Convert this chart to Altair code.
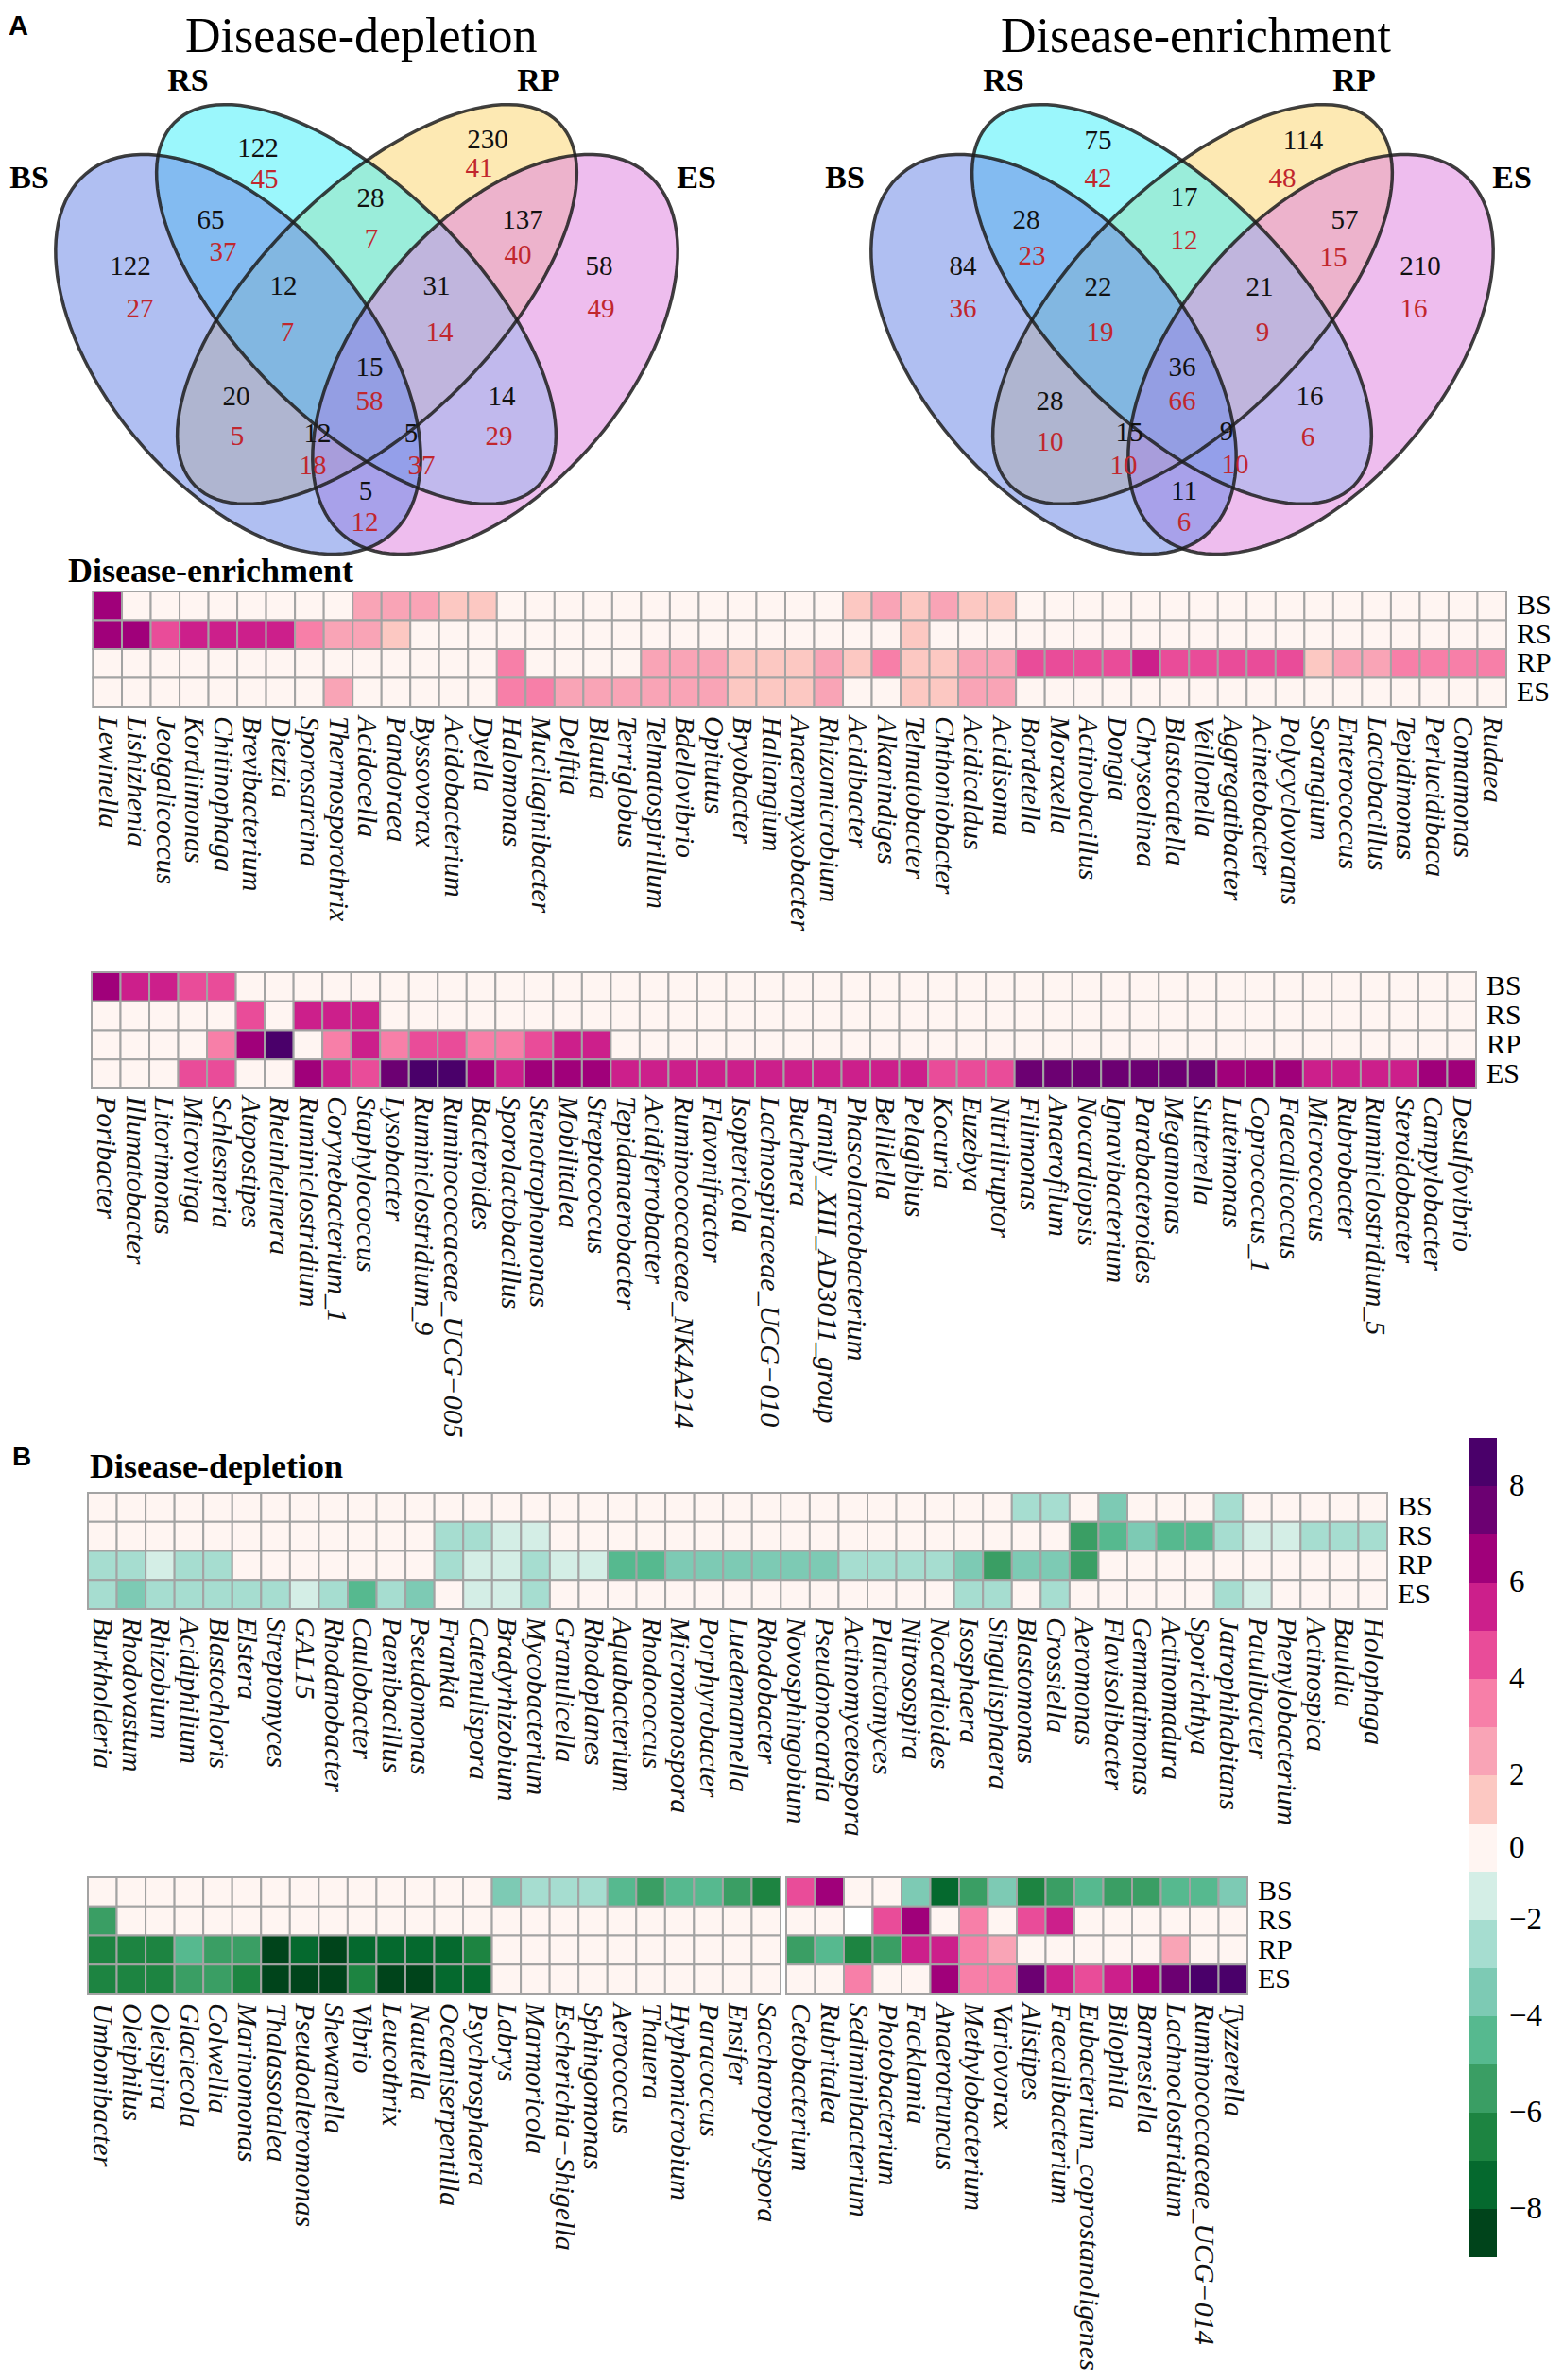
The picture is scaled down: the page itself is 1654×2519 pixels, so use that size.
import altair as alt
import numpy as np
import pandas as pd

M = 8                      # page margin
W_CHART, H_CHART = 1638, 2503
SERIF = "Liberation Serif"
SANS = "Liberation Sans"
GRID = "#a3a3a3"

# ---------------- Venn data ----------------
SETS = ["BS", "RS", "RP", "ES"]
REGIONS = ["BS", "RS", "RP", "ES", "BS&RS", "RS&RP", "RP&ES", "BS&RS&RP", "RS&RP&ES",
           "ALL", "BS&RP", "RS&ES", "BS&RP&ES", "BS&RS&ES", "BS&ES"]
DEPL_BLACK = [122, 122, 230, 58, 65, 28, 137, 12, 31, 15, 20, 14, 12, 5, 5]
DEPL_RED = [27, 45, 41, 49, 37, 7, 40, 7, 14, 58, 5, 29, 18, 37, 12]
ENR_BLACK = [84, 75, 114, 210, 28, 17, 57, 22, 21, 36, 28, 16, 15, 9, 11]
ENR_RED = [36, 42, 48, 16, 23, 12, 15, 19, 9, 66, 10, 6, 10, 10, 6]

# ---------------- heatmap data (levels of the colour key) ----------------
ROWS = ["BS", "RS", "RP", "ES"]

A1_GENERA = ["Lewinella", "Lishizhenia", "Jeotgalicoccus", "Kordiimonas", "Chitinophaga",
             "Brevibacterium", "Dietzia", "Sporosarcina", "Thermosporothrix", "Acidocella",
             "Pandoraea", "Byssovorax", "Acidobacterium", "Dyella", "Halomonas",
             "Mucilaginibacter", "Delftia", "Blautia", "Terriglobus", "Telmatospirillum",
             "Bdellovibrio", "Opitutus", "Bryobacter", "Haliangium", "Anaeromyxobacter",
             "Rhizomicrobium", "Acidibacter", "Alkanindiges", "Telmatobacter", "Chthoniobacter",
             "Acidicaldus", "Acidisoma", "Bordetella", "Moraxella", "Actinobacillus", "Dongia",
             "Chryseolinea", "Blastocatella", "Veillonella", "Aggregatibacter", "Acinetobacter",
             "Polycyclovorans", "Sorangium", "Enterococcus", "Lactobacillus", "Tepidimonas",
             "Perlucidibaca", "Comamonas", "Rudaea"]
A1_BS = [6, 0, 0, 0, 0, 0, 0, 0, 0, 2, 2, 2, 1, 1] + [0] * 12 + [1, 2, 1, 2, 1, 1] + [0] * 17
A1_RS = [6, 6, 4, 5, 5, 5, 5, 3, 2, 2, 1] + [0] * 17 + [1] + [0] * 20
A1_RP = [0] * 14 + [3] + [0] * 4 + [2, 2, 2, 1, 1, 1, 2, 1, 3, 1, 1, 2, 2] + \
        [4, 4, 4, 4, 5, 4, 4, 4, 4, 4] + [1, 2, 2, 3, 3, 3, 3]
A1_ES = [0] * 8 + [2] + [0] * 5 + [3, 3, 2, 2, 2, 2, 2, 2, 1, 1, 1, 2] + [0, 0, 1, 1, 2, 2] + [0] * 17

A2_GENERA = ["Poribacter", "Illumatobacter", "Litorimonas", "Microvirga", "Schlesneria",
             "Atopostipes", "Rheinheimera", "Ruminiclostridium", "Corynebacterium_1",
             "Staphylococcus", "Lysobacter", "Ruminiclostridium_9", "Ruminococcaceae_UCG\u2212005",
             "Bacteroides", "Sporolactobacillus", "Stenotrophomonas", "Mobilitalea",
             "Streptococcus", "Tepidanaerobacter", "Acidiferrobacter", "Ruminococcaceae_NK4A214",
             "Flavonifractor", "Isoptericola", "Lachnospiraceae_UCG\u2212010", "Buchnera",
             "Family_XIII_AD3011_group", "Phascolarctobacterium", "Bellilella", "Pelagibius",
             "Kocuria", "Euzebya", "Nitriliruptor", "Filimonas", "Anaerofilum", "Nocardiopsis",
             "Ignavibacterium", "Parabacteroides", "Megamonas", "Sutterella", "Luteimonas",
             "Coprococcus_1", "Faecalicoccus", "Micrococcus", "Rubrobacter", "Ruminiclostridium_5",
             "Steroidobacter", "Campylobacter", "Desulfovibrio"]
A2_BS = [6, 5, 5, 4, 4] + [0] * 43
A2_RS = [0, 0, 0, 0, 0, 4, 0, 5, 5, 5] + [0] * 38
A2_RP = [0, 0, 0, 0, 3, 6, 8, 0, 3, 5, 3, 4, 4, 3, 3, 4, 5, 5] + [0] * 30
A2_ES = [0, 0, 0, 4, 4, 0, 0, 6, 5, 4, 7, 8, 8, 6, 5, 6, 6, 6] + [5] * 11 + [4, 4, 4] + \
        [7] * 7 + [6, 6, 6] + [5, 5, 5, 5] + [6, 6]

B1_GENERA = ["Burkholderia", "Rhodovastum", "Rhizobium", "Acidiphilium", "Blastochloris",
             "Elstera", "Streptomyces", "GAL15", "Rhodanobacter", "Caulobacter", "Paenibacillus",
             "Pseudomonas", "Frankia", "Catenulispora", "Bradyrhizobium", "Mycobacterium",
             "Granulicella", "Rhodoplanes", "Aquabacterium", "Rhodococcus", "Micromonospora",
             "Porphyrobacter", "Luedemannella", "Rhodobacter", "Novosphingobium",
             "Pseudonocardia", "Actinomycetospora", "Planctomyces", "Nitrosospira",
             "Nocardioides", "Isosphaera", "Singulisphaera", "Blastomonas", "Crossiella",
             "Aeromonas", "Flavisolibacter", "Gemmatimonas", "Actinomadura", "Sporichthya",
             "Jatrophihabitans", "Patulibacter", "Phenylobacterium", "Actinospica", "Bauldia",
             "Holophaga"]
B1_BS = [0] * 32 + [-2, -2, 0, -3, 0, 0, 0, -2, 0, 0, 0, 0, 0]
B1_RS = [0] * 12 + [-2, -2, -1, -1] + [0] * 18 + [-5, -4, -3, -4, -4, -2, -1, -1, -2, -2, -2]
B1_RP = [-2, -2, -1, -2, -2] + [0] * 7 + \
        [-2, -1, -1, -2, -1, -1, -4, -4, -3, -3, -3, -3, -3, -3, -2, -2, -2, -2, -3, -5, -3, -3, -5] + \
        [0] * 10
B1_ES = [-2, -3, -2, -2, -2, -2, -2, -1, -2, -4, -2, -3] + [0, -1, -1, -2] + [0] * 14 + \
        [-2, -2, 0, -2] + [0] * 5 + [-2, -1] + [0] * 4

B2L_GENERA = ["Umbonibacter", "Oleiphilus", "Oleispira", "Glaciecola", "Colwellia",
              "Marinomonas", "Thalassotalea", "Pseudoalteromonas", "Shewanella", "Vibrio",
              "Leucothrix", "Nautella", "Oceaniserpentilla", "Psychrosphaera", "Labrys",
              "Marmoricola", "Escherichia\u2212Shigella", "Sphingomonas", "Aerococcus", "Thauera",
              "Hyphomicrobium", "Paracoccus", "Ensifer", "Saccharopolyspora"]
B2L_BS = [0] * 14 + [-3, -2, -2, -2, -4, -5, -4, -4, -5, -6]
B2L_RS = [-5] + [0] * 23
B2L_RP = [-6, -6, -6, -4, -5, -5, -8, -7, -8, -7, -7, -7, -7, -6] + [0] * 10
B2L_ES = [-6, -6, -6, -5, -5, -6, -8, -8, -8, -6, -8, -8, -7, -7] + [0] * 10

B2R_GENERA = ["Cetobacterium", "Rubritalea", "Sediminibacterium", "Photobacterium", "Facklamia",
              "Anaerotruncus", "Methylobacterium", "Variovorax", "Alistipes", "Faecalibacterium",
              "Eubacterium_coprostanoligenes", "Bilophila", "Barnesiella", "Lachnoclostridium",
              "Ruminococcaceae_UCG\u2212014", "Tyzzerella"]
B2R_BS = [4, 6, 0, 0, -3, -7, -5, -3, -6, -5, -4, -5, -5, -4, -4, -3]
B2R_RS = [0, 0, None, 4, 6, 0, 3, 0, 4, 5, 0, 0, 0, 0, 0, 0]
B2R_RP = [-5, -4, -6, -5, 5, 5, 3, 2, 0, 0, 0, 0, 0, 2, 0, 0]
B2R_ES = [0, 0, 3, 0, 0, 6, 3, 3, 7, 5, 4, 5, 6, 7, 8, 8]

# colour key: levels -8 ... 8
KEY_LEVELS = list(range(8, -9, -1))
KEY_TICKS = [8, 6, 4, 2, 0, -2, -4, -6, -8]
KEY_TICK_TEXT = ["8", "6", "4", "2", "0", "\u22122", "\u22124", "\u22126", "\u22128"]

# ---------------- styles / layout ----------------
LEVEL_COLORS = ["#00441b", "#05692e", "#1d8441", "#3a9e64", "#56b98f", "#7dcab4", "#a6ddd0",
                "#d4eee6", "#fff5f2", "#fcc8c2", "#f9a4b6", "#f77fa8", "#e94c99", "#cc1f8b",
                "#a0007a", "#6c0072", "#4a006a"]
CSCALE = alt.Scale(type="threshold", domain=[k + 0.5 for k in range(-8, 8)], range=LEVEL_COLORS)

# Venn geometry (relative to the vertical symmetry axis), drawing order bottom -> top
ELLIPSES = [  # set, dx, y, semi-major, semi-minor, angle, fill
    ("RP", 11, 322, 272, 124, 135, "#fbd775"),
    ("RS", -11, 322, 272, 124, 45, "#49f0fa"),
    ("ES", 136, 375, 250, 140, 130, "#e087e0"),
    ("BS", -136, 375, 250, 140, 50, "#6f8ae7"),
]
SET_LABEL_POS = {"BS": (-357, 189), "RS": (-189, 86), "RP": (182, 86), "ES": (349, 189)}
# region label positions: dx_black, y_black, dx_red, y_red
POS_LEFT = {
    "BS": (-250, 282, -240, 327), "RS": (-115, 157, -108, 190), "RP": (128, 148, 119, 178),
    "ES": (246, 282, 248, 327), "BS&RS": (-165, 233, -152, 267), "RS&RP": (4, 210, 5, 253),
    "RP&ES": (165, 233, 160, 270), "BS&RS&RP": (-88, 303, -84, 352),
    "RS&RP&ES": (74, 303, 77, 352), "ALL": (3, 389, 3, 425), "BS&RP": (-138, 420, -137, 462),
    "RS&ES": (143, 420, 140, 462), "BS&RP&ES": (-52, 459, -57, 493),
    "BS&RS&ES": (47, 459, 58, 493), "BS&ES": (-1, 520, -2, 553),
}
POS_RIGHT = {
    "BS": (-232, 282, -232, 327), "RS": (-89, 149, -89, 189), "RP": (128, 149, 106, 189),
    "ES": (252, 282, 245, 327), "BS&RS": (-165, 233, -159, 271), "RS&RP": (2, 209, 2, 255),
    "RP&ES": (172, 233, 160, 273), "BS&RS&RP": (-89, 304, -87, 352),
    "RS&RP&ES": (82, 304, 85, 352), "ALL": (0, 389, 0, 425), "BS&RP": (-140, 425, -140, 468),
    "RS&ES": (135, 420, 133, 463), "BS&RP&ES": (-56, 458, -62, 493),
    "BS&RS&ES": (47, 457, 56, 492), "BS&ES": (2, 520, 2, 553),
}


def ellipse_path(ratio, n=120):
    t = np.linspace(0, 2 * np.pi, n, endpoint=False)
    pts = ["%.4f,%.4f" % (np.cos(a), ratio * np.sin(a)) for a in t]
    return "M" + " L".join(pts) + " Z"


def venn_block(axis_x, title, black, red, pos, panel=None):
    xs = alt.Scale(domain=[-400, 400], range=[axis_x - 400 - M, axis_x + 400 - M], nice=False, zero=False)
    ys = alt.Scale(domain=[0, 600], range=[0 - M, 600 - M], nice=False, zero=False)
    X = lambda f: alt.X(f, scale=xs, axis=None)
    Y = lambda f: alt.Y(f, scale=ys, axis=None)

    edf = pd.DataFrame([{"set": s, "vx": dx, "vy": y, "path": ellipse_path(b / a),
                         "size": 4 * a * a, "ang": ang, "col": col, "ord": i}
                        for i, (s, dx, y, a, b, ang, col) in enumerate(ELLIPSES)])
    enc = dict(x=X("vx:Q"), y=Y("vy:Q"), shape=alt.Shape("path:N", scale=None),
               size=alt.Size("size:Q", scale=None), angle=alt.Angle("ang:Q", scale=None),
               order=alt.Order("ord:Q"))
    fills = alt.Chart(edf).mark_point(filled=True, opacity=1, fillOpacity=0.55, strokeWidth=0).encode(
        fill=alt.Fill("col:N", scale=None), **enc)
    lines = alt.Chart(edf).mark_point(filled=False, opacity=0.85, strokeWidth=3.5, color="#1e1e1e").encode(**enc)

    ndf = pd.DataFrame({"region": REGIONS, "black": [str(v) for v in black], "red": [str(v) for v in red],
                        "bx": [pos[r][0] for r in REGIONS], "by": [pos[r][1] for r in REGIONS],
                        "rx": [pos[r][2] for r in REGIONS], "ry": [pos[r][3] for r in REGIONS]})
    nb = alt.Chart(ndf).mark_text(font=SERIF, fontSize=29, color="#111111", baseline="middle").encode(
        x=X("bx:Q"), y=Y("by:Q"), text="black:N")
    nr = alt.Chart(ndf).mark_text(font=SERIF, fontSize=29, color="#c1272d", baseline="middle").encode(
        x=X("rx:Q"), y=Y("ry:Q"), text="red:N")

    sdf = pd.DataFrame({"set": SETS, "sx": [SET_LABEL_POS[s][0] for s in SETS],
                        "sy": [SET_LABEL_POS[s][1] for s in SETS]})
    sl = alt.Chart(sdf).mark_text(font=SERIF, fontSize=34, fontWeight="bold", color="#000",
                                  baseline="middle").encode(x=X("sx:Q"), y=Y("sy:Q"), text="set:N")
    tdf = pd.DataFrame({"t": [title], "tx": [-192], "ty": [55]})
    tl = alt.Chart(tdf).mark_text(font=SERIF, fontSize=52, color="#000", align="left",
                                  baseline="alphabetic").encode(x=X("tx:Q"), y=Y("ty:Q"), text="t:N")
    layers = [fills, lines, nb, nr, sl, tl]
    if panel:
        pdf = pd.DataFrame({"t": [panel], "px": [9 - axis_x], "py": [37]})
        layers.append(alt.Chart(pdf).mark_text(font=SANS, fontSize=29, fontWeight="bold", color="#000",
                                               align="left", baseline="alphabetic").encode(
            x=X("px:Q"), y=Y("py:Q"), text="t:N"))
    return alt.layer(*layers)


def heat_block(genera, rows, x0, x1, y0, y1, rowlabels=True, title=None, title_left=None,
               title_cy=None, panel=None, panel_left=None, panel_cy=None, gap=9):
    n = len(genera)
    cw = (x1 - x0) / n
    rh = (y1 - y0) / 4.0
    df = pd.DataFrame([{"genus": g, "row": r, "v": v}
                       for r, vals in zip(ROWS, rows) for g, v in zip(genera, vals)])
    xs = alt.Scale(domain=genera, range=[x0 - M, x1 - M], paddingInner=0, paddingOuter=0)
    ys = alt.Scale(domain=ROWS, range=[y0 - M, y1 - M], paddingInner=0, paddingOuter=0)
    X = alt.X("genus:N", scale=xs, axis=None)
    Y = alt.Y("row:N", scale=ys, axis=None)
    base = alt.Chart(df).mark_rect(fill="#ffffff", stroke=GRID, strokeWidth=2).encode(x=X, y=Y)
    cells = alt.Chart(df).transform_filter("isValid(datum.v)").mark_rect(
        stroke=GRID, strokeWidth=2).encode(x=X, y=Y, color=alt.Color("v:Q", scale=CSCALE, legend=None))
    ldf = pd.DataFrame({"genus": genera, "row": ["ES"] * n})
    cl = alt.Chart(ldf).mark_text(angle=90, align="left", baseline="middle", dx=rh / 2 + gap,
                                  font=SERIF, fontStyle="italic", fontSize=30, color="#111111").encode(
        x=X, y=Y, text="genus:N")
    layers = [base, cells, cl]
    if rowlabels:
        rdf = pd.DataFrame({"genus": [genera[-1]] * 4, "row": ROWS})
        layers.append(alt.Chart(rdf).mark_text(align="left", baseline="middle", dx=cw / 2 + 11,
                                               font=SERIF, fontSize=30, color="#000").encode(
            x=X, y=Y, text="row:N"))
    if title:
        tdf = pd.DataFrame({"genus": [genera[0]], "row": ["BS"], "t": [title]})
        layers.append(alt.Chart(tdf).mark_text(
            align="left", baseline="middle", dx=title_left - (x0 + cw / 2), dy=title_cy - (y0 + rh / 2),
            font=SERIF, fontWeight="bold", fontSize=36, color="#000").encode(x=X, y=Y, text="t:N"))
    if panel:
        pdf = pd.DataFrame({"genus": [genera[0]], "row": ["BS"], "t": [panel]})
        layers.append(alt.Chart(pdf).mark_text(
            align="left", baseline="middle", dx=panel_left - (x0 + cw / 2), dy=panel_cy - (y0 + rh / 2),
            font=SANS, fontWeight="bold", fontSize=28, color="#000").encode(x=X, y=Y, text="t:N"))
    return alt.layer(*layers)


def key_block(x0, x1, y0, y1):
    nb = len(KEY_LEVELS)
    kdf = pd.DataFrame({"k": ["key"] * nb, "pos": list(range(nb)), "pos2": [i + 1 for i in range(nb)],
                        "v": KEY_LEVELS})
    tick_pos = [KEY_LEVELS.index(t) + (0.5 if t == 0 else (1 if t > 0 else 0)) for t in KEY_TICKS]
    tdf = pd.DataFrame({"k": ["key"] * len(KEY_TICKS), "pos": tick_pos, "t": KEY_TICK_TEXT})
    xs = alt.Scale(domain=["key"], range=[x0 - M, x1 - M], paddingInner=0, paddingOuter=0)
    ys = alt.Scale(domain=[0, nb], range=[y0 - M, y1 - M], nice=False, zero=False)
    X = alt.X("k:N", scale=xs, axis=None)
    bars = alt.Chart(kdf).mark_rect().encode(
        x=X, y=alt.Y("pos:Q", scale=ys, axis=None), y2="pos2:Q",
        color=alt.Color("v:Q", scale=CSCALE, legend=None))
    labels = alt.Chart(tdf).mark_text(align="left", baseline="middle", dx=(x1 - x0) / 2 + 13,
                                      font=SERIF, fontSize=33, color="#000").encode(
        x=X, y=alt.Y("pos:Q", scale=ys, axis=None), text="t:N")
    return alt.layer(bars, labels)


venn_l = venn_block(388, "Disease-depletion", DEPL_BLACK, DEPL_RED, POS_LEFT, panel="A")
venn_r = venn_block(1251, "Disease-enrichment", ENR_BLACK, ENR_RED, POS_RIGHT)
a1 = heat_block(A1_GENERA, [A1_BS, A1_RS, A1_RP, A1_ES], 98.5, 1594, 626, 748,
                title="Disease-enrichment", title_left=72, title_cy=605, gap=10)
a2 = heat_block(A2_GENERA, [A2_BS, A2_RS, A2_RP, A2_ES], 97, 1562, 1029, 1152, gap=8)
b1 = heat_block(B1_GENERA, [B1_BS, B1_RS, B1_RP, B1_ES], 93, 1468, 1580, 1703,
                title="Disease-depletion", title_left=95, title_cy=1553,
                panel="B", panel_left=13, panel_cy=1543, gap=9)
b2l = heat_block(B2L_GENERA, [B2L_BS, B2L_RS, B2L_RP, B2L_ES], 93, 826, 1987, 2110,
                 rowlabels=False, gap=10)
b2r = heat_block(B2R_GENERA, [B2R_BS, B2R_RS, B2R_RP, B2R_ES], 832, 1320, 1987, 2110, gap=10)
key = key_block(1554, 1584, 1522, 2389)

chart = alt.layer(venn_l, venn_r, a1, a2, b1, b2l, b2r, key).resolve_scale(
    x="independent", y="independent"
).properties(
    width=W_CHART, height=H_CHART, padding=0, autosize=alt.AutoSizeParams(type="none")
).configure_view(stroke=None)

chart.save("out.html", embed_options={"renderer": "svg", "actions": False})
